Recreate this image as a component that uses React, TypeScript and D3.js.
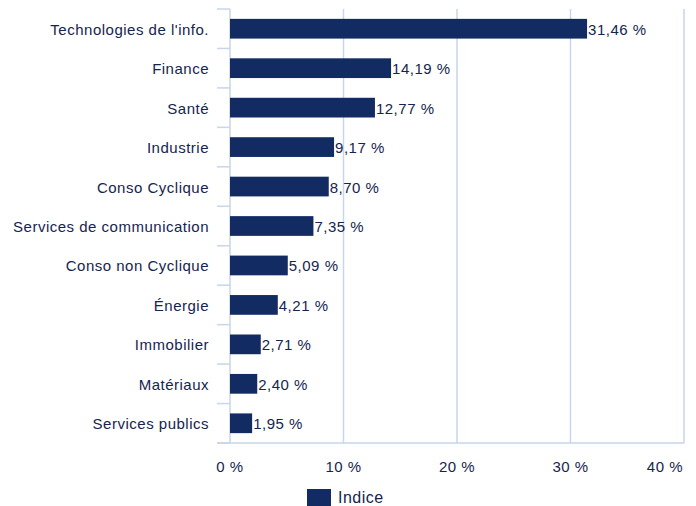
import React from "react";
import * as d3 from "d3";

const categories = [
  "Technologies de l'info.",
  "Finance",
  "Santé",
  "Industrie",
  "Conso Cyclique",
  "Services de communication",
  "Conso non Cyclique",
  "Énergie",
  "Immobilier",
  "Matériaux",
  "Services publics",
];
const values = [31.46, 14.19, 12.77, 9.17, 8.7, 7.35, 5.09, 4.21, 2.71, 2.4, 1.95];
const xTicks = [0, 10, 20, 30, 40];
const seriesName = "Indice";

const W = 696;
const H = 506;
const left = 230;
const right = 684;
const top = 9;
const bottom = 443;
const barColor = "#122b63";
const textColor = "#15254f";
const gridColor = "#c9d5e8";
const font = "'Liberation Sans', Arial, Helvetica, sans-serif";

export default function App() {
  const x = d3.scaleLinear().domain([0, 40]).range([left, right]);
  const y = d3.scaleBand<string>().domain(categories).range([top, bottom]).paddingInner(0.5).paddingOuter(0.25);
  const step = (bottom - top) / categories.length;
  const fmt = (v: number) => v.toFixed(2).replace(".", ",") + " %";
  return (
    <svg width={W} height={H} style={{ position: "absolute", left: 0, top: 0 }}>
      <rect x={0} y={0} width={W} height={H} fill="#ffffff" />
      {xTicks.map((t) => (
        <line key={"g" + t} x1={x(t)} x2={x(t)} y1={top} y2={bottom} stroke={gridColor} strokeWidth={1.5} />
      ))}
      {d3.range(categories.length + 1).map((i) => (
        <line key={"t" + i} x1={217} x2={left} y1={top + i * step} y2={top + i * step} stroke={gridColor} strokeWidth={1.5} />
      ))}
      <line x1={217} x2={right} y1={bottom} y2={bottom} stroke={gridColor} strokeWidth={1.5} />
      {categories.map((c, i) => (
        <g key={c}>
          <rect x={x(0)} y={y(c)} width={x(values[i]) - x(0)} height={y.bandwidth()} fill={barColor} />
          <text x={x(values[i]) + 1} y={(y(c) as number) + y.bandwidth() / 2 + 6} fontSize={15} letterSpacing={0.5} fill={textColor} fontFamily={font}>
            {fmt(values[i])}
          </text>
          <text x={209} y={(y(c) as number) + y.bandwidth() / 2 + 6} fontSize={15} letterSpacing={0.5} fill={textColor} fontFamily={font} textAnchor="end">
            {c}
          </text>
        </g>
      ))}
      {xTicks.map((t, i) => (
        <text
          key={"l" + t}
          x={i === xTicks.length - 1 ? 683 : x(t)}
          y={472}
          fontSize={15}
          letterSpacing={0.5}
          fill={textColor}
          fontFamily={font}
          textAnchor={i === xTicks.length - 1 ? "end" : "middle"}
        >
          {t + " %"}
        </text>
      ))}
      <rect x={307} y={489} width={24} height={18} fill={barColor} />
      <text x={338} y={503} fontSize={16} letterSpacing={0.5} fill={textColor} fontFamily={font}>
        {seriesName}
      </text>
    </svg>
  );
}
